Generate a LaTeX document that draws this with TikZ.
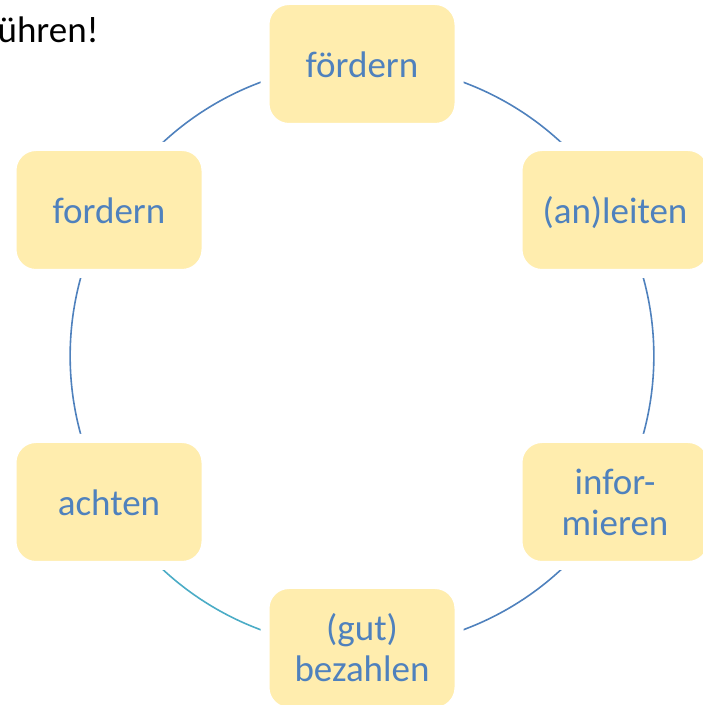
\documentclass[tikz,border=0pt]{standalone}
\usepackage{fontspec}
\setmainfont{Carlito}
\usetikzlibrary{backgrounds}
\definecolor{giallo}{HTML}{FFEDAE}
\definecolor{blu}{HTML}{4F81BD}
\definecolor{azzurro}{HTML}{4BACC6}
\tikzset{
  casella/.style={fill=giallo, draw=white, line width=9pt, rounded corners=24pt,
    minimum width=194pt, minimum height=127pt, inner sep=0pt,
    text=blu, align=center, font=\fontsize{37}{41}\selectfont},
  riga/.style={text height=27pt, text depth=0pt},
  arco/.style={blu, line width=1.6pt, bend left=30, looseness=0.91}
}
\begin{document}
\begin{tikzpicture}[x=1pt,y=1pt]
        \useasboundingbox (0,0) rectangle (703,705);
        \clip (0,0) rectangle (703,705);

        % Titolo (tagliato a sinistra)
        \node[anchor=base east, inner sep=0pt, font=\fontsize{37}{41}\selectfont] (titolo) at (99,662) {führen!};

        % Caselle sul cerchio
        \node[casella,riga] (foerdern) at (362,641) {fördern};
        \node[casella,riga] (anleiten) at (615,495) {(an)leiten};
        \node[casella] (informieren) at (615,203) {infor-\\mieren};
        \node[casella] (bezahlen) at (362,57) {(gut)\\bezahlen};
        \node[casella,riga] (achten) at (109,203) {achten};
        \node[casella,riga] (fordern) at (109,495) {fordern};

        % Archi dietro le caselle
        \begin{scope}[on background layer]
          \draw[arco] (foerdern.center) to (anleiten.center);
          \draw[arco] (anleiten.center) to (informieren.center);
          \draw[arco] (informieren.center) to (bezahlen.center);
          \draw[arco,azzurro] (bezahlen.center) to (achten.center);
          \draw[arco] (achten.center) to (fordern.center);
          \draw[arco] (fordern.center) to (foerdern.center);
        \end{scope}
      \end{tikzpicture}
\end{document}
